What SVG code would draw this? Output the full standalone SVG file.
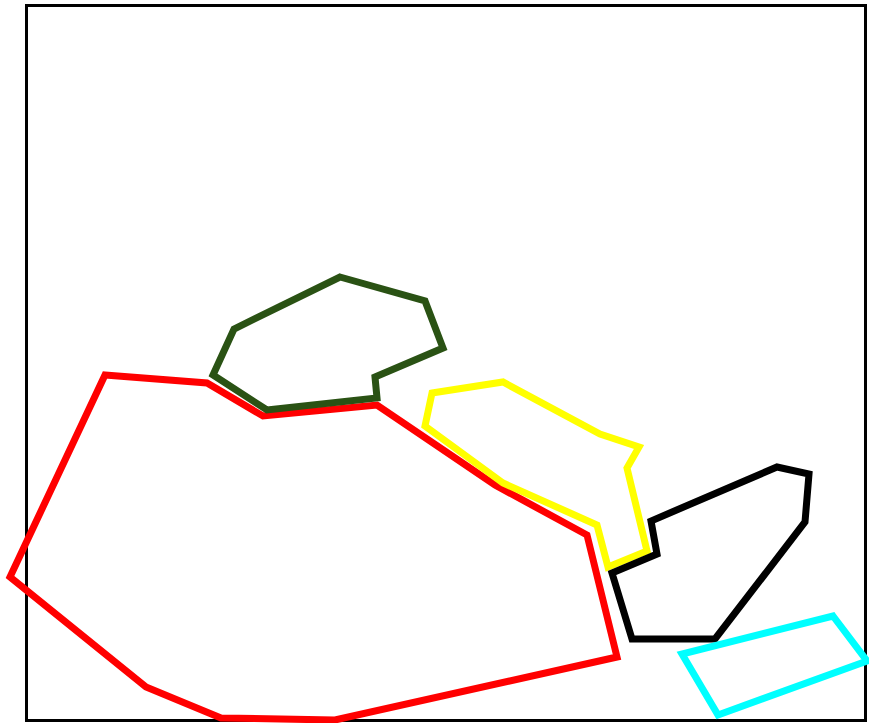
<svg xmlns="http://www.w3.org/2000/svg" width="869" height="723" viewBox="0 0 869 723">
<style>
.p{fill:none;stroke-width:7;stroke-linejoin:miter}
</style>
<rect width="869" height="723" fill="#fff"/>
<rect id="frame" x="26.5" y="5.5" width="839" height="715" fill="none" stroke="#000" stroke-width="3"/>
<g id="red"><polygon class="p" stroke="#ff0000" points="105,375 207,383 263,416 377,405 495,485 587,535 617,657 335,720 221,718 146,687 10,577"/></g>
<g id="green"><polygon class="p" stroke="#2a5214" points="340,277 425,301 443,348 375,377 377,398 267,410 213,375 234,329"/></g>
<g id="yellow"><polygon class="p" stroke="#ffff00" points="432,393 503,382 600,434 639,447 627,468 647,551 608,567 597,525 503,483 425,426"/></g>
<g id="black"><polygon class="p" stroke="#000" points="777,467 809,474 805,522 715,639 632,639 612,573 657,554 651,521"/></g>
<g id="cyan"><polygon class="p" stroke="#00ffff" points="833,616 867,661 718,715 682,654"/></g>
</svg>
